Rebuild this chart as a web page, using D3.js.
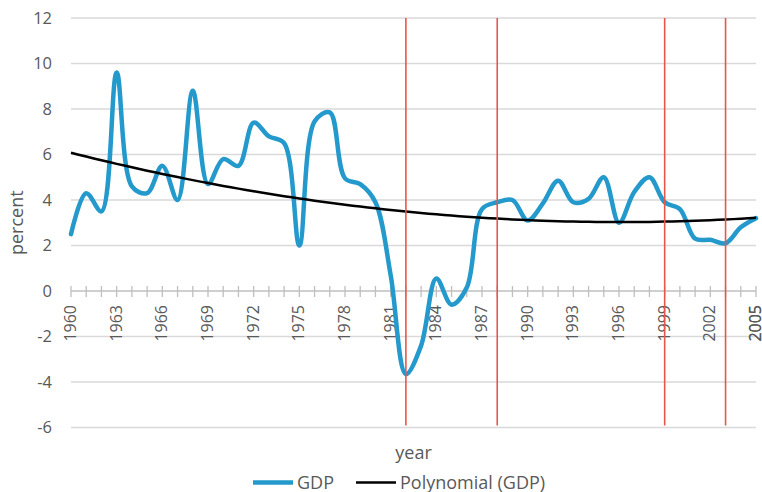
<!DOCTYPE html>
<html>
<head>
<meta charset="utf-8">
<script src="https://cdn.jsdelivr.net/npm/d3@7"></script>
<style>
  body { margin: 0; background: #fff; }
  text { font-family: "Open Sans", sans-serif; fill: #595959; }
</style>
</head>
<body>
<div id="chart"></div>
<script>
// DATA
const years = d3.range(1960, 2006)
const gdp = [2.5, 4.3, 3.5, 9.6, 4.6, 4.3, 5.5, 4.0, 8.8, 4.7,
             5.8, 5.5, 7.4, 6.8, 6.5, 2.0, 7.45, 7.85, 4.95, 4.7,
             3.9, 0.7, -3.65, -2.4, 0.55, -0.6, 0.15, 3.6, 3.9, 4.0,
             3.1, 3.85, 4.85, 3.9, 4.05, 5.0, 3.0, 4.35, 5.0, 3.9,
             3.6, 2.3, 2.25, 2.1, 2.8, 3.2]
const yTicks = [-6, -4, -2, 0, 2, 4, 6, 8, 10, 12]
const xLabelYears = d3.range(1960, 2006, 3).concat([2005])
const markerYears = [1982, 1988, 1999, 2003]
const seriesNames = ["GDP", "Polynomial (GDP)"]

//MARGIN CONVENTION
const W = 762, H = 492
const PLOT = { LEFT: 71, RIGHT: 756, TOP: 18, BOTTOM: 427.5 }

const svg = d3.select("#chart").append("svg")
    .attr("width", W)
    .attr("height", H)

//SCALES
const x = d3.scaleLinear().domain([1960, 2005]).range([PLOT.LEFT, PLOT.RIGHT])
const y = d3.scaleLinear().domain([-6, 12]).range([PLOT.BOTTOM, PLOT.TOP])

// GRID
svg.append("g").selectAll("line").data(yTicks).join("line")
    .attr("x1", PLOT.LEFT).attr("x2", PLOT.RIGHT)
    .attr("y1", d => y(d)).attr("y2", d => y(d))
    .attr("stroke", d => d === 0 ? "#bfbfbf" : "#d9d9d9")
    .attr("stroke-width", 1.3)

// Y LABELS
svg.append("g").selectAll("text").data(yTicks).join("text")
    .attr("x", 52).attr("y", d => y(d))
    .attr("dy", "0.35em")
    .attr("text-anchor", "end")
    .attr("font-size", 16.5)
    .text(d => d)

// X AXIS ticks at 0
svg.append("g").selectAll("line").data(years).join("line")
    .attr("x1", d => x(d)).attr("x2", d => x(d))
    .attr("y1", y(0) - 5).attr("y2", y(0) + 6)
    .attr("stroke", "#bfbfbf")
    .attr("stroke-width", 1.3)

svg.append("g").selectAll("text").data(xLabelYears).join("text")
    .attr("transform", d => `translate(${x(d) + 5},${y(0) + 14}) rotate(-90)`)
    .attr("text-anchor", "end")
    .attr("font-size", 16)
    .text(d => d)

// AXIS TITLES
svg.append("text")
    .attr("transform", `translate(${23},${(PLOT.TOP + PLOT.BOTTOM) / 2}) rotate(-90)`)
    .attr("text-anchor", "middle")
    .attr("font-size", 18)
    .text("percent")

svg.append("text")
    .attr("x", (PLOT.LEFT + PLOT.RIGHT) / 2).attr("y", 459)
    .attr("text-anchor", "middle")
    .attr("font-size", 18)
    .text("year")

// POLYNOMIAL TREND (least squares, order 2)
function polyFit(xs, ys) {
    const t = xs.map(v => v - 1960)
    const s = k => d3.sum(t, v => Math.pow(v, k))
    const sy = k => d3.sum(t, (v, i) => Math.pow(v, k) * ys[i])
    const A = [[s(0), s(1), s(2)], [s(1), s(2), s(3)], [s(2), s(3), s(4)]]
    const b = [sy(0), sy(1), sy(2)]
    // gaussian elimination
    for (let i = 0; i < 3; i++) {
        for (let j = i + 1; j < 3; j++) {
            const f = A[j][i] / A[i][i]
            for (let k = i; k < 3; k++) A[j][k] -= f * A[i][k]
            b[j] -= f * b[i]
        }
    }
    const c = [0, 0, 0]
    for (let i = 2; i >= 0; i--) {
        let v = b[i]
        for (let k = i + 1; k < 3; k++) v -= A[i][k] * c[k]
        c[i] = v / A[i][i]
    }
    return yr => c[0] + c[1] * (yr - 1960) + c[2] * Math.pow(yr - 1960, 2)
}
const trend = polyFit(years, gdp)

const gdpLine = d3.line()
    .curve(d3.curveCatmullRom.alpha(0.5))
    .x((d, i) => x(years[i]))
    .y(d => y(d))

svg.append("path")
    .attr("d", gdpLine(gdp))
    .attr("fill", "none")
    .attr("stroke", "#2499cc")
    .attr("stroke-width", 4.5)
    .attr("stroke-linejoin", "round")
    .attr("stroke-linecap", "round")

const trendLine = d3.line()
    .x(d => x(d))
    .y(d => y(trend(d)))
svg.append("path")
    .attr("d", trendLine(d3.range(1960, 2005.01, 0.5)))
    .attr("fill", "none")
    .attr("stroke", "#000")
    .attr("stroke-width", 2.5)

// RED MARKERS
svg.append("g").selectAll("line").data(markerYears).join("line")
    .attr("x1", d => x(d)).attr("x2", d => x(d))
    .attr("y1", PLOT.TOP).attr("y2", PLOT.BOTTOM - 2)
    .attr("stroke", "#e8564b")
    .attr("stroke-width", 1.6)

// LEGEND
const legend = svg.append("g")
const legendX = [253, 356]
const legendColors = ["#2499cc", "#000"]
const legendWidths = [4.5, 2.5]
seriesNames.forEach((name, i) => {
    legend.append("line")
        .attr("x1", legendX[i]).attr("x2", legendX[i] + 40)
        .attr("y1", 482.5).attr("y2", 482.5)
        .attr("stroke", legendColors[i])
        .attr("stroke-width", legendWidths[i])
    legend.append("text")
        .attr("x", legendX[i] + 44).attr("y", 482.5)
        .attr("dy", "0.35em")
        .attr("font-size", 18)
        .text(name)
})
</script>
</body>
</html>
